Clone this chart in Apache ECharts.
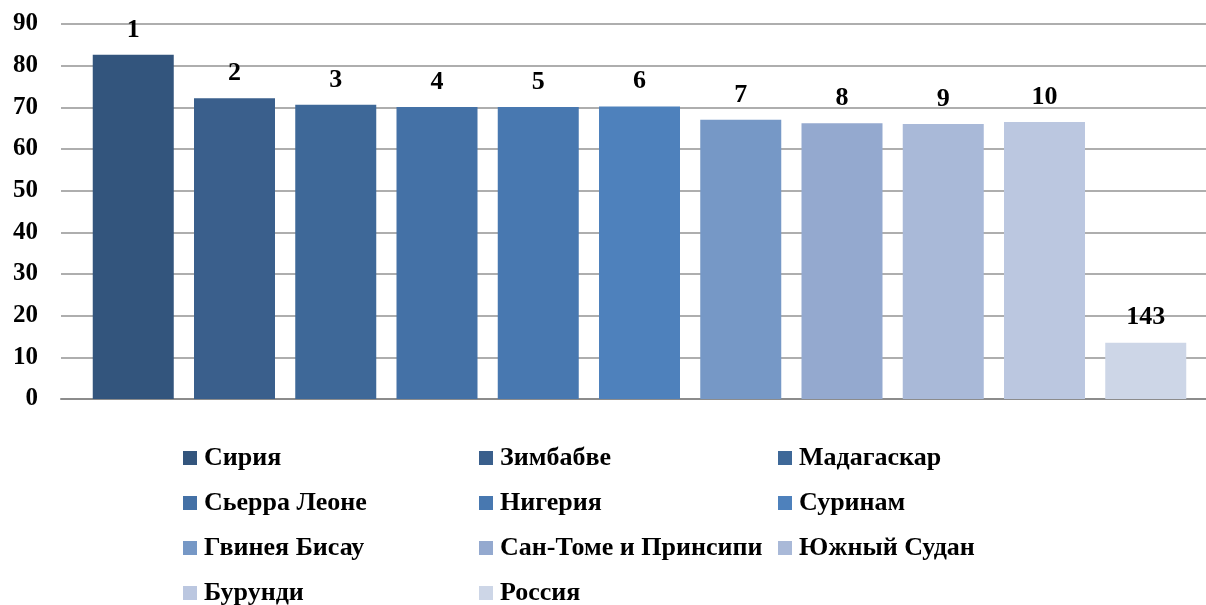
<!DOCTYPE html>
<html>
<head>
<meta charset="utf-8">
<script src="https://cdn.jsdelivr.net/npm/echarts@6/dist/echarts.min.js"></script>
<style>
  html, body { margin: 0; padding: 0; background: #fff; }
  #chart { width: 1206px; height: 605px; }
</style>
</head>
<body>
<div id="chart"></div>
<script>
const countries = ['Сирия', 'Зимбабве', 'Мадагаскар', 'Сьерра Леоне', 'Нигерия', 'Суринам',
  'Гвинея Бисау', 'Сан-Томе и Принсипи', 'Южный Судан', 'Бурунди', 'Россия']
const values = [82.6, 72.2, 70.6, 70.1, 70.1, 70.2, 67.0, 66.2, 66.0, 66.5, 13.5]
const ranks = ['1', '2', '3', '4', '5', '6', '7', '8', '9', '10', '143']
const colors = ['#33557d', '#3a5f8c', '#3e6898', '#4471a6', '#4878b0', '#4e81bc',
  '#7698c6', '#94a9cf', '#a9b9d8', '#bbc7e0', '#cdd6e7']
const yTicks = [0, 10, 20, 30, 40, 50, 60, 70, 80, 90]

const font = '"Liberation Serif", "Times New Roman", serif'
const chart = echarts.init(document.getElementById('chart'))

const series = countries.map((name, i) => ({
  name,
  type: 'bar',
  barWidth: 81,
  barGap: '25%',
  itemStyle: { color: colors[i] },
  label: {
    show: true,
    position: 'top',
    distance: 12,
    formatter: () => ranks[i],
    fontFamily: font,
    fontWeight: 'bold',
    fontSize: 26,
    color: '#000'
  },
  data: [values[i]]
}))

// legend as three columns
const cols = [[0, 3, 6, 9], [1, 4, 7, 10], [2, 5, 8]]
const colX = [183, 479, 778]
const legends = cols.map((idx, c) => ({
  orient: 'vertical',
  left: colX[c],
  top: 445,
  height: 200,
  padding: 0,
  itemWidth: 14,
  itemHeight: 14,
  itemGap: 19,
  icon: 'rect',
  textStyle: {
    fontFamily: font, fontWeight: 'bold', fontSize: 26, lineHeight: 26,
    color: '#000', padding: [0, 0, 0, 2]
  },
  data: idx.map(i => countries[i])
}))

chart.setOption({
  animation: false,
  grid: { left: 61, width: 1157, top: 24, height: 375, outerBoundsMode: 'none' },
  legend: legends,
  xAxis: {
    type: 'category',
    data: [''],
    axisLine: { lineStyle: { color: '#8c8c8c', width: 2 } },
    axisTick: { show: false },
    axisLabel: { show: false }
  },
  yAxis: {
    type: 'value',
    min: yTicks[0],
    max: yTicks[yTicks.length - 1],
    interval: 10,
    axisLine: { show: false },
    axisTick: { show: false },
    splitLine: { lineStyle: { color: '#939393', width: 1.5 } },
    axisLabel: {
      margin: 23,
      fontFamily: font,
      fontWeight: 'bold',
      fontSize: 25,
      color: '#000'
    }
  },
  series
})
</script>
</body>
</html>
